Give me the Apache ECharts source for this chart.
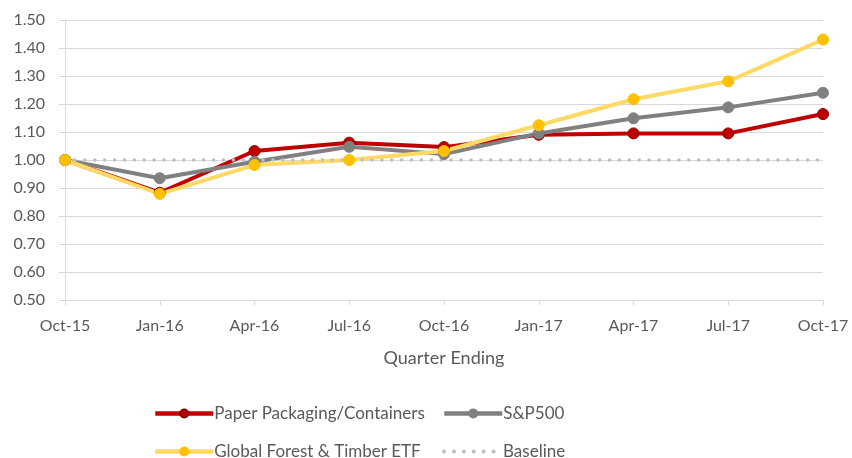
<!DOCTYPE html>
<html><head><meta charset="utf-8">
<script src="https://cdn.jsdelivr.net/npm/echarts@6/dist/echarts.min.js"></script>
<style>html,body{margin:0;padding:0;background:#fff}#c{width:852px;height:458px}</style>
</head><body><div id="c"></div>
<script>
const categories = ['Oct-15','Jan-16','Apr-16','Jul-16','Oct-16','Jan-17','Apr-17','Jul-17','Oct-17'];
const paperPackaging = [1.00, 0.883, 1.032, 1.062, 1.046, 1.090, 1.095, 1.095, 1.164];
const sp500 = [1.00, 0.935, 0.994, 1.047, 1.021, 1.095, 1.149, 1.188, 1.240];
const forestTimberETF = [1.00, 0.879, 0.982, 1.000, 1.032, 1.124, 1.217, 1.281, 1.430];
const baseline = [1, 1, 1, 1, 1, 1, 1, 1, 1];
const yTicks = { min: 0.5, max: 1.5, interval: 0.1 };

const FONT = 'Lato, "Open Sans", sans-serif';
const TXT = '#595959';
const chart = echarts.init(document.getElementById('c'), null, {renderer: 'canvas'});
const legendBase = {
  orient: 'horizontal', itemWidth: 58, itemHeight: 10, itemGap: 4,
  lineStyle: {width: 4.5},
  textStyle: {fontFamily: FONT, fontSize: 17, color: TXT, padding: [0,0,0,-4]}
};
chart.setOption({
  animation: false,
  backgroundColor: '#fff',
  grid: {left: 65, right: 29, top: 20, bottom: 158, containLabel: false},
  legend: [
    Object.assign({}, legendBase, {data: ['Paper Packaging/Containers'], left: 148, top: 400}),
    Object.assign({}, legendBase, {data: ['S&P500'], left: 437, top: 400}),
    Object.assign({}, legendBase, {data: ['Global Forest & Timber ETF'], left: 148, top: 438}),
    Object.assign({}, legendBase, {data: ['Baseline'], left: 437, top: 438,
      itemStyle: {opacity: 0}, lineStyle: {width: 4}})
  ],
  xAxis: {
    type: 'category', data: categories, boundaryGap: false,
    axisLine: {show: true, lineStyle: {color: '#d9d9d9', width: 1}},
    axisTick: {show: true, alignWithLabel: true, length: 5, lineStyle: {color: '#d9d9d9'}},
    axisLabel: {fontFamily: FONT, fontSize: 16, color: TXT, margin: 18},
    name: 'Quarter Ending', nameLocation: 'middle', nameGap: 49,
    nameTextStyle: {fontFamily: FONT, fontSize: 18, color: TXT}
  },
  yAxis: {
    type: 'value', min: yTicks.min, max: yTicks.max, interval: yTicks.interval,
    axisLine: {show: true, lineStyle: {color: '#d9d9d9', width: 1}},
    axisTick: {show: true, length: 6, lineStyle: {color: '#d9d9d9'}},
    splitLine: {show: true, lineStyle: {color: '#d9d9d9', width: 1}},
    axisLabel: {fontFamily: FONT, fontSize: 16, color: TXT, margin: 20,
      formatter: v => v.toFixed(2)}
  },
  series: [
    {name: 'Paper Packaging/Containers', type: 'line', data: paperPackaging,
     symbol: 'circle', symbolSize: 11, color: '#c00000',
     lineStyle: {color: '#c00000', width: 4},
     itemStyle: {color: '#c00000', borderColor: '#8e0000', borderWidth: 1}},
    {name: 'S&P500', type: 'line', data: sp500,
     symbol: 'circle', symbolSize: 11, color: '#808080',
     lineStyle: {color: '#808080', width: 4},
     itemStyle: {color: '#808080', borderColor: '#808080', borderWidth: 1}},
    {name: 'Global Forest & Timber ETF', type: 'line', data: forestTimberETF,
     symbol: 'circle', symbolSize: 11, color: '#ffc000',
     lineStyle: {color: '#ffd966', width: 4},
     itemStyle: {color: '#ffc000', borderColor: '#ffc000', borderWidth: 1}},
    {name: 'Baseline', type: 'line', data: baseline,
     symbol: 'none', color: '#bfbfbf',
     lineStyle: {color: '#bfbfbf', width: 3.5, type: [0.1, 9.8], cap: 'round'}}
  ]
});
</script></body></html>
